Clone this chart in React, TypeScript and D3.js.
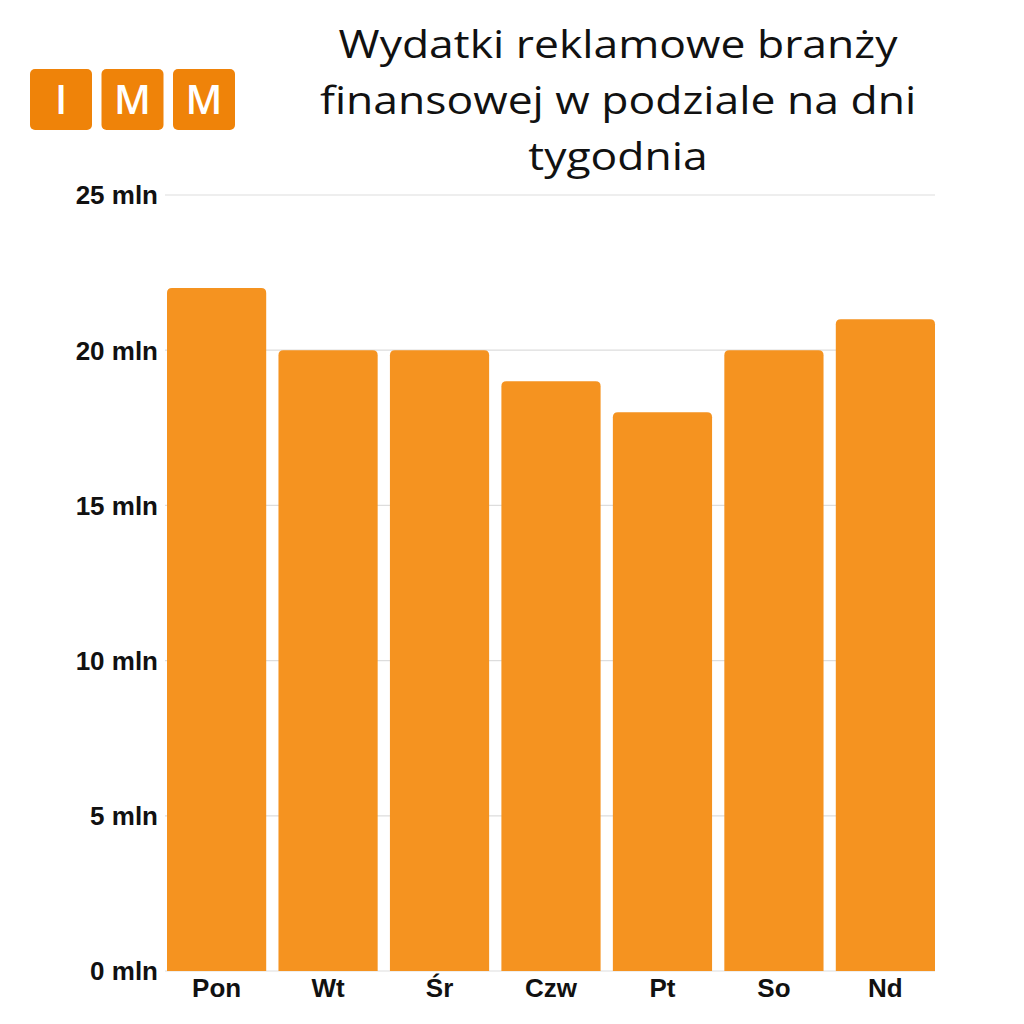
import { useRef, useEffect } from "react";
import * as d3 from "d3";

const days = ["Pon", "Wt", "Śr", "Czw", "Pt", "So", "Nd"];
const spend = [22, 20, 20, 19, 18, 20, 21]; // mln
const yTicks = [0, 5, 10, 15, 20, 25];
const titleLines = [
  "Wydatki reklamowe branży",
  "finansowej w podziale na dni",
  "tygodnia",
];
const logoLetters = ["I", "M", "M"];

const W = 1024;
const H = 1024;

const App = () => {
  const svgRef = useRef();

  useEffect(() => {
    const svg = d3.select(svgRef.current);
    svg.selectAll("*").remove();

    const margin = { top: 195, right: 89, bottom: 53, left: 167 };
    const chartW = W - margin.left - margin.right;
    const chartH = H - margin.top - margin.bottom;

    svg.append("rect").attr("width", W).attr("height", H).attr("fill", "#fff");

    // logo
    const logo = svg.append("g").attr("transform", "translate(30,69)");
    logo
      .selectAll("g")
      .data(logoLetters)
      .enter()
      .append("g")
      .attr("transform", (d, i) => `translate(${i * 71.5},0)`)
      .each(function (d) {
        const g = d3.select(this);
        g.append("rect")
          .attr("width", 62)
          .attr("height", 61)
          .attr("rx", 5)
          .attr("fill", "#EF8309");
        g.append("text")
          .attr("x", 31)
          .attr("y", 45)
          .attr("text-anchor", "middle")
          .attr("fill", "#fff")
          .attr("font-family", "'Open Sans', sans-serif")
          .attr("font-weight", 600)
          .attr("font-size", 40)
          .text(d);
      });

    // title (stretched horizontally to mimic a wide geometric face)
    svg
      .append("g")
      .attr("transform", "translate(618,0) scale(1.17,1)")
      .selectAll("text")
      .data(titleLines)
      .enter()
      .append("text")
      .attr("x", 0)
      .attr("y", (d, i) => 58 + i * 56)
      .attr("text-anchor", "middle")
      .attr("font-family", "'Open Sans', sans-serif")
      .attr("font-size", 38)
      .attr("fill", "#111")
      .text((d) => d);

    const chart = svg
      .append("g")
      .attr("transform", `translate(${margin.left},${margin.top})`);

    const x = d3
      .scaleBand()
      .domain(days)
      .range([0, chartW])
      .paddingInner(0.11)
      .paddingOuter(0);

    const y = d3.scaleLinear().domain([0, 25]).range([chartH, 0]);

    // grid
    chart
      .append("g")
      .selectAll("line")
      .data(yTicks)
      .enter()
      .append("line")
      .attr("x1", -2)
      .attr("x2", chartW)
      .attr("y1", (d) => y(d))
      .attr("y2", (d) => y(d))
      .attr("stroke", "#dddddd")
      .attr("stroke-width", 1.2);

    // y labels
    chart
      .append("g")
      .selectAll("text")
      .data(yTicks)
      .enter()
      .append("text")
      .attr("x", -9)
      .attr("y", (d) => y(d))
      .attr("dy", "0.36em")
      .attr("text-anchor", "end")
      .attr("font-family", "'Liberation Sans', Arial, sans-serif")
      .attr("font-weight", 700)
      .attr("font-size", 26)
      .attr("fill", "#111")
      .text((d) => `${d} mln`);

    // bars with rounded top corners
    const r = 5;
    chart
      .selectAll(".bar")
      .data(days.map((d, i) => ({ day: d, value: spend[i] })))
      .enter()
      .append("path")
      .attr("class", "bar")
      .attr("fill", "#F59320")
      .attr("d", (d) => {
        const x0 = x(d.day);
        const x1 = x0 + x.bandwidth();
        const yt = y(d.value);
        const yb = y(0);
        return `M${x0},${yb}V${yt + r}Q${x0},${yt} ${x0 + r},${yt}H${x1 - r}Q${x1},${yt} ${x1},${yt + r}V${yb}Z`;
      });

    // x labels
    chart
      .append("g")
      .selectAll("text")
      .data(days)
      .enter()
      .append("text")
      .attr("x", (d) => x(d) + x.bandwidth() / 2)
      .attr("y", chartH + 26)
      .attr("text-anchor", "middle")
      .attr("font-family", "'Liberation Sans', Arial, sans-serif")
      .attr("font-weight", 700)
      .attr("font-size", 26)
      .attr("fill", "#111")
      .text((d) => d);
  }, []);

  return (
    <svg
      ref={svgRef}
      width={W}
      height={H}
      style={{ position: "absolute", left: 0, top: 0 }}
    ></svg>
  );
};

export default App;
